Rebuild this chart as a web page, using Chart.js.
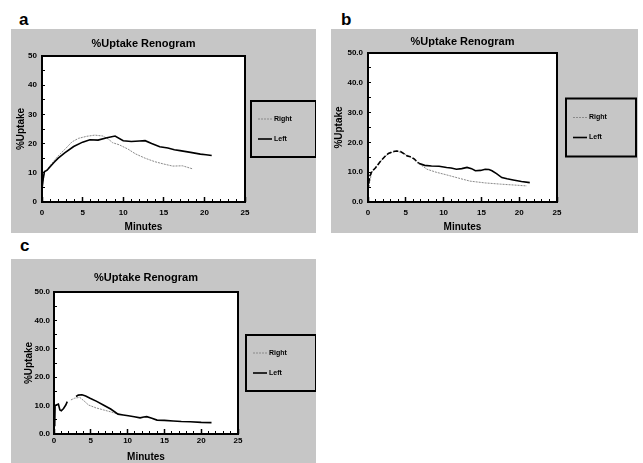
<!DOCTYPE html>
<html>
<head>
<meta charset="utf-8">
<script src="https://cdn.jsdelivr.net/npm/chart.js@4.4.1/dist/chart.umd.min.js"></script>
<style>
  body { margin: 0; width: 643px; height: 463px; background: #fff; position: relative; overflow: hidden; }
  .panel { position: absolute; background: #c6c6c6; }
  .tag { position: absolute; font: bold 17px "Liberation Sans", Arial, sans-serif; line-height: 17px; color: #000; }
</style>
</head>
<body>
<div class="tag" style="left:19px;top:11px">a</div>
<div class="tag" style="left:341px;top:11px">b</div>
<div class="tag" style="left:20px;top:237px">c</div>

<div class="panel" style="left:11px;top:29px;width:305px;height:204px"><canvas id="chartA"></canvas></div>
<div class="panel" style="left:331px;top:29px;width:307px;height:204px"><canvas id="chartB"></canvas></div>
<div class="panel" style="left:11px;top:259px;width:305px;height:204px"><canvas id="chartC"></canvas></div>

<script>
// values (minutes, % uptake)
const aLeftMin = [0, 0.15, 0.3, 0.6, 1.0, 1.5, 2.0, 2.8, 3.9, 5.0, 5.9, 6.9, 8.0, 9.0, 10.0, 11.0, 12.0, 12.7, 13.5, 14.5, 15.5, 16.3, 17.0, 18.3, 19.5, 20.2, 20.9];
const aLeftVal = [4.5, 8.0, 10.4, 10.8, 12.1, 13.6, 15.0, 16.8, 19.0, 20.5, 21.3, 21.2, 22.0, 22.6, 21.0, 20.7, 20.9, 21.0, 20.0, 18.9, 18.5, 17.9, 17.6, 17.0, 16.4, 16.2, 15.9];
const aRightMin = [0, 0.3, 1.0, 2.0, 2.8, 3.7, 4.5, 5.5, 6.5, 7.5, 8.2, 8.7, 9.5, 10.6, 11.5, 12.7, 13.9, 15.0, 16.1, 17.3, 18.6];
const aRightVal = [5.0, 10.0, 12.5, 15.8, 18.0, 20.6, 21.8, 22.5, 22.9, 22.6, 21.5, 20.3, 19.6, 18.1, 16.5, 15.0, 13.8, 13.0, 12.3, 12.4, 11.3];

const bLeftMin = [0, 0.2, 0.5, 1.0, 1.6, 2.2, 2.7, 3.3, 3.8, 4.3, 4.7, 5.2, 5.6, 6.1, 6.7, 7.5, 8.4, 9.4, 10.4, 11.0, 11.7, 12.4, 13.1, 13.7, 14.2, 14.9, 15.5, 16.0, 16.4, 17.0, 17.7, 18.4, 19.2, 20.3, 21.4];
const bLeftVal = [4.0, 8.5, 10.2, 11.5, 13.5, 15.2, 16.3, 16.9, 17.1, 16.9, 16.3, 15.4, 15.2, 14.5, 13.0, 12.3, 12.1, 12.0, 11.6, 11.4, 11.0, 11.2, 11.6, 11.2, 10.5, 10.6, 11.0, 10.9, 10.5, 9.5, 8.2, 7.8, 7.4, 6.9, 6.5];
const bRightMin = [0, 0.5, 1.6, 2.7, 3.8, 4.7, 5.6, 6.7, 7.8, 9.0, 10.4, 12.0, 13.5, 15.5, 17.5, 19.3, 21.0];
const bRightVal = [4.0, 10.0, 13.5, 16.3, 17.1, 16.3, 15.2, 13.0, 11.0, 10.0, 9.1, 8.0, 7.0, 6.4, 6.0, 5.7, 5.4];

const cLeftMin = [0.05, 0.1, 0.15, 0.3, 0.6, 0.8, 1.0, 1.3, 1.6, 1.8, 2.4, 3.0, 3.3, 3.8, 4.3, 4.9, 5.8, 6.7, 7.7, 8.7, 9.4, 10.1, 10.9, 11.7, 12.2, 12.6, 13.2, 14.0, 15.0, 16.2, 17.3, 18.5, 20.0, 21.4];
const cLeftVal = [3.0, 3.5, 10.0, 10.2, 10.5, 8.5, 8.2, 9.0, 10.2, 11.4, null, 13.2, 13.7, 13.8, 13.4, 12.6, 11.5, 10.2, 8.8, 7.0, 6.7, 6.4, 6.1, 5.7, 6.0, 6.1, 5.6, 4.9, 4.8, 4.6, 4.4, 4.3, 4.1, 4.0];
const cRightMin = [2.3, 2.8, 3.5, 4.1, 4.7, 5.7, 6.7, 7.7, 8.7];
const cRightVal = [12.0, 12.6, 12.9, 11.6, 10.2, 9.2, 8.5, 7.8, 7.0];

const fontFam = '"Liberation Sans", Arial, sans-serif';

const pts = (xs, ys) => xs.map((x, i) => ({x: x, y: ys[i]}));

// white plot area + black frame
const framePlugin = {
    id: 'frame',
    beforeDraw(chart) {
        const {ctx, chartArea: a} = chart;
        ctx.save();
        ctx.fillStyle = '#fff';
        ctx.fillRect(a.left, a.top, a.width, a.height);
        ctx.restore();
    },
    afterDatasetsDraw(chart) {
        const {ctx, chartArea: a} = chart;
        ctx.save();
        ctx.strokeStyle = '#000';
        ctx.lineWidth = 2;
        ctx.strokeRect(a.left, a.top, a.width, a.height);
        ctx.restore();
    }
};

// boxed legend to the right of the plot
const boxLegend = {
    id: 'boxLegend',
    afterDraw(chart, args, o) {
        const {ctx, chartArea: a} = chart;
        const x = a.left + a.width + o.gap;
        const y = (a.top + a.bottom) / 2 - o.height / 2;
        ctx.save();
        ctx.strokeStyle = '#000';
        ctx.lineWidth = 2;
        ctx.strokeRect(x, y, o.width, o.height);
        ctx.font = 'bold 7px ' + fontFam;
        ctx.textBaseline = 'middle';
        ctx.fillStyle = '#000';
        chart.data.datasets.forEach((ds, i) => {
            const cy = y + o.height / 2 + (i - 0.5) * 20;
            ctx.strokeStyle = ds.borderColor;
            ctx.lineWidth = ds.borderWidth;
            ctx.setLineDash(ds.borderDash || []);
            ctx.beginPath();
            ctx.moveTo(x + 7, cy);
            ctx.lineTo(x + 21, cy);
            ctx.stroke();
            ctx.setLineDash([]);
            ctx.fillText(ds.label, x + 23, cy);
        });
        ctx.restore();
    }
};

const makeChart = (id, p) => {
    const tickFont = {family: fontFam, size: 8, weight: 'bold'};
    const axisFont = {family: fontFam, size: 10, weight: 'bold'};
    return new Chart(document.getElementById(id), {
        type: 'line',
        data: {
            datasets: [{
                label: 'Right',
                data: pts(p.rightMin, p.rightVal),
                borderColor: '#8a8a8a',
                borderWidth: 1,
                borderDash: [2, 1],
                pointRadius: 0,
                order: 1
            }, {
                label: 'Left',
                data: pts(p.leftMin, p.leftVal),
                borderColor: '#000',
                borderWidth: 1.6,
                pointRadius: 0,
                order: 0,
                segment: p.segment
            }]
        },
        options: {
            responsive: true,
            maintainAspectRatio: false,
            animation: false,
            layout: {padding: {right: p.padRight}},
            plugins: {
                legend: {display: false},
                tooltip: {enabled: false},
                title: {
                    display: true,
                    text: '%Uptake Renogram',
                    fullSize: false,
                    color: '#000',
                    font: {family: fontFam, size: 11, weight: 'bold'},
                    padding: {top: p.titleTop, bottom: p.titleBottom}
                },
                boxLegend: {gap: p.legendGap, width: p.legendW, height: p.legendH}
            },
            scales: {
                x: {
                    type: 'linear', position: 'bottom', min: 0, max: 25,
                    afterFit: s => { s.height = p.xH; },
                    border: {color: '#000', width: 2},
                    grid: {drawOnChartArea: false, tickLength: -3, tickColor: '#000'},
                    ticks: {
                        stepSize: 1, autoSkip: false, maxRotation: 0, color: '#000',
                        padding: p.xPad, font: tickFont,
                        callback: v => v % 5 === 0 ? String(v) : ''
                    },
                    title: {display: true, text: 'Minutes', color: '#000', font: axisFont, padding: {top: 0, bottom: 0}}
                },
                xMajor: {
                    type: 'linear', position: 'bottom', min: 0, max: 25, weight: -1,
                    afterFit: s => { s.height = 0; },
                    border: {display: false},
                    grid: {drawOnChartArea: false, tickLength: -5, tickColor: '#000', tickWidth: 1.5},
                    ticks: {stepSize: 5, display: false}
                },
                y: {
                    min: 0, max: 50,
                    afterFit: s => { s.width = p.yW; },
                    border: {color: '#000', width: 2},
                    grid: {drawOnChartArea: false, tickLength: -3, tickColor: '#000'},
                    ticks: {
                        stepSize: 5, autoSkip: false, color: '#000', padding: 3 + p.yGap, font: tickFont,
                        callback: v => v % 10 === 0 ? (p.decimals ? v.toFixed(1) : String(v)) : ''
                    },
                    title: {display: true, text: '%Uptake', color: '#000', font: axisFont, padding: {top: p.yTitlePad, bottom: 0}}
                }
            }
        },
        plugins: [framePlugin, boxLegend]
    });
};

makeChart('chartA', {
    leftMin: aLeftMin, leftVal: aLeftVal, rightMin: aRightMin, rightVal: aRightVal,
    decimals: false, padRight: 71, titleTop: 8.4, titleBottom: 5.4,
    xH: 31, xPad: 9, yW: 31, yGap: 5, yTitlePad: 4.5,
    legendGap: 6, legendW: 65, legendH: 56
});

makeChart('chartB', {
    leftMin: bLeftMin, leftVal: bLeftVal, rightMin: bRightMin, rightVal: bRightVal,
    decimals: true, padRight: 81, titleTop: 6.4, titleBottom: 4.4,
    xH: 31, xPad: 9, yW: 37, yGap: 5, yTitlePad: 2,
    legendGap: 9, legendW: 70, legendH: 58,
    segment: {borderDash: ctx => ctx.p0.parsed.x < 6.5 ? [5, 2] : undefined}
});

makeChart('chartC', {
    leftMin: cLeftMin, leftVal: cLeftVal, rightMin: cRightMin, rightVal: cRightVal,
    decimals: true, padRight: 78, titleTop: 12.4, titleBottom: 7.4,
    xH: 29, xPad: 5, yW: 43, yGap: 4, yTitlePad: 12,
    legendGap: 8, legendW: 70, legendH: 56
});
</script>
</body>
</html>
